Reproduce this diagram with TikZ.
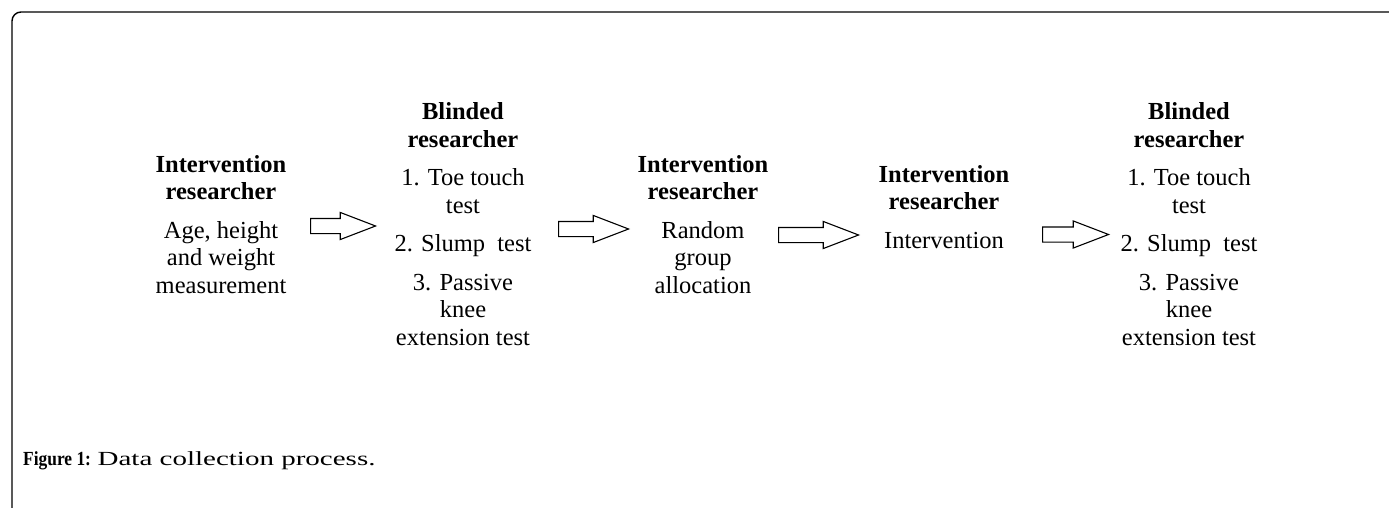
\documentclass[tikz,border=0pt]{standalone}
\usepackage{fontspec}
\setmainfont{Liberation Serif}
\newfontfamily\figfont[FakeStretch=0.87]{Liberation Serif}
\newfontfamily\capfont[FakeStretch=1.45]{Liberation Serif}
\usetikzlibrary{shapes.arrows}

\begin{document}
\begin{tikzpicture}[x=1pt,y=-1pt,
    stage/.style={align=center,anchor=north,inner sep=0pt,font=\fontsize{24.5}{27.5}\selectfont},
    flow/.style={single arrow,draw,line width=1.1pt,inner xsep=0pt,inner ysep=7pt,anchor=tail,
      single arrow head extend=6pt,single arrow tip angle=42}]
  \useasboundingbox (0,0) rectangle (1389,508);
  % frame
  \draw[line width=1.4pt,rounded corners=9pt] (1389,12) -- (12,12) -- (12,508);
  % stages
  \node[stage] (S1) at (221,155) {\textbf{Intervention}\\\textbf{researcher}\\[11pt]Age, height\\and weight\\measurement};
  \node[stage] (S2) at (463,102.5) {\textbf{Blinded}\\\textbf{researcher}\\[11pt]1. Toe touch\\test\\[11pt]2. Slump\ \ test\\[11pt]3. Passive\\knee\\extension test};
  \node[stage] (S3) at (703,155) {\textbf{Intervention}\\\textbf{researcher}\\[11pt]Random\\group\\allocation};
  \node[stage] (S4) at (944,165) {\textbf{Intervention}\\\textbf{researcher}\\[11pt]Intervention};
  \node[stage] (S5) at (1189,102.5) {\textbf{Blinded}\\\textbf{researcher}\\[11pt]1. Toe touch\\test\\[11pt]2. Slump\ \ test\\[11pt]3. Passive\\knee\\extension test};
  % arrows
  \node[flow,minimum height=65pt] (F1) at (310,226) {};
  \node[flow,minimum height=70pt] (F2) at (558,229) {};
  \node[flow,minimum height=80pt] (F3) at (778,235) {};
  \node[flow,minimum height=66pt] (F4) at (1042,234.5) {};
  % caption
  \node[anchor=base west,inner sep=0pt,font=\fontsize{20}{24}\selectfont] (cap) at (23,465)
    {{\figfont\bfseries Figure 1:} {\capfont Data collection process.}};
\end{tikzpicture}
\end{document}
